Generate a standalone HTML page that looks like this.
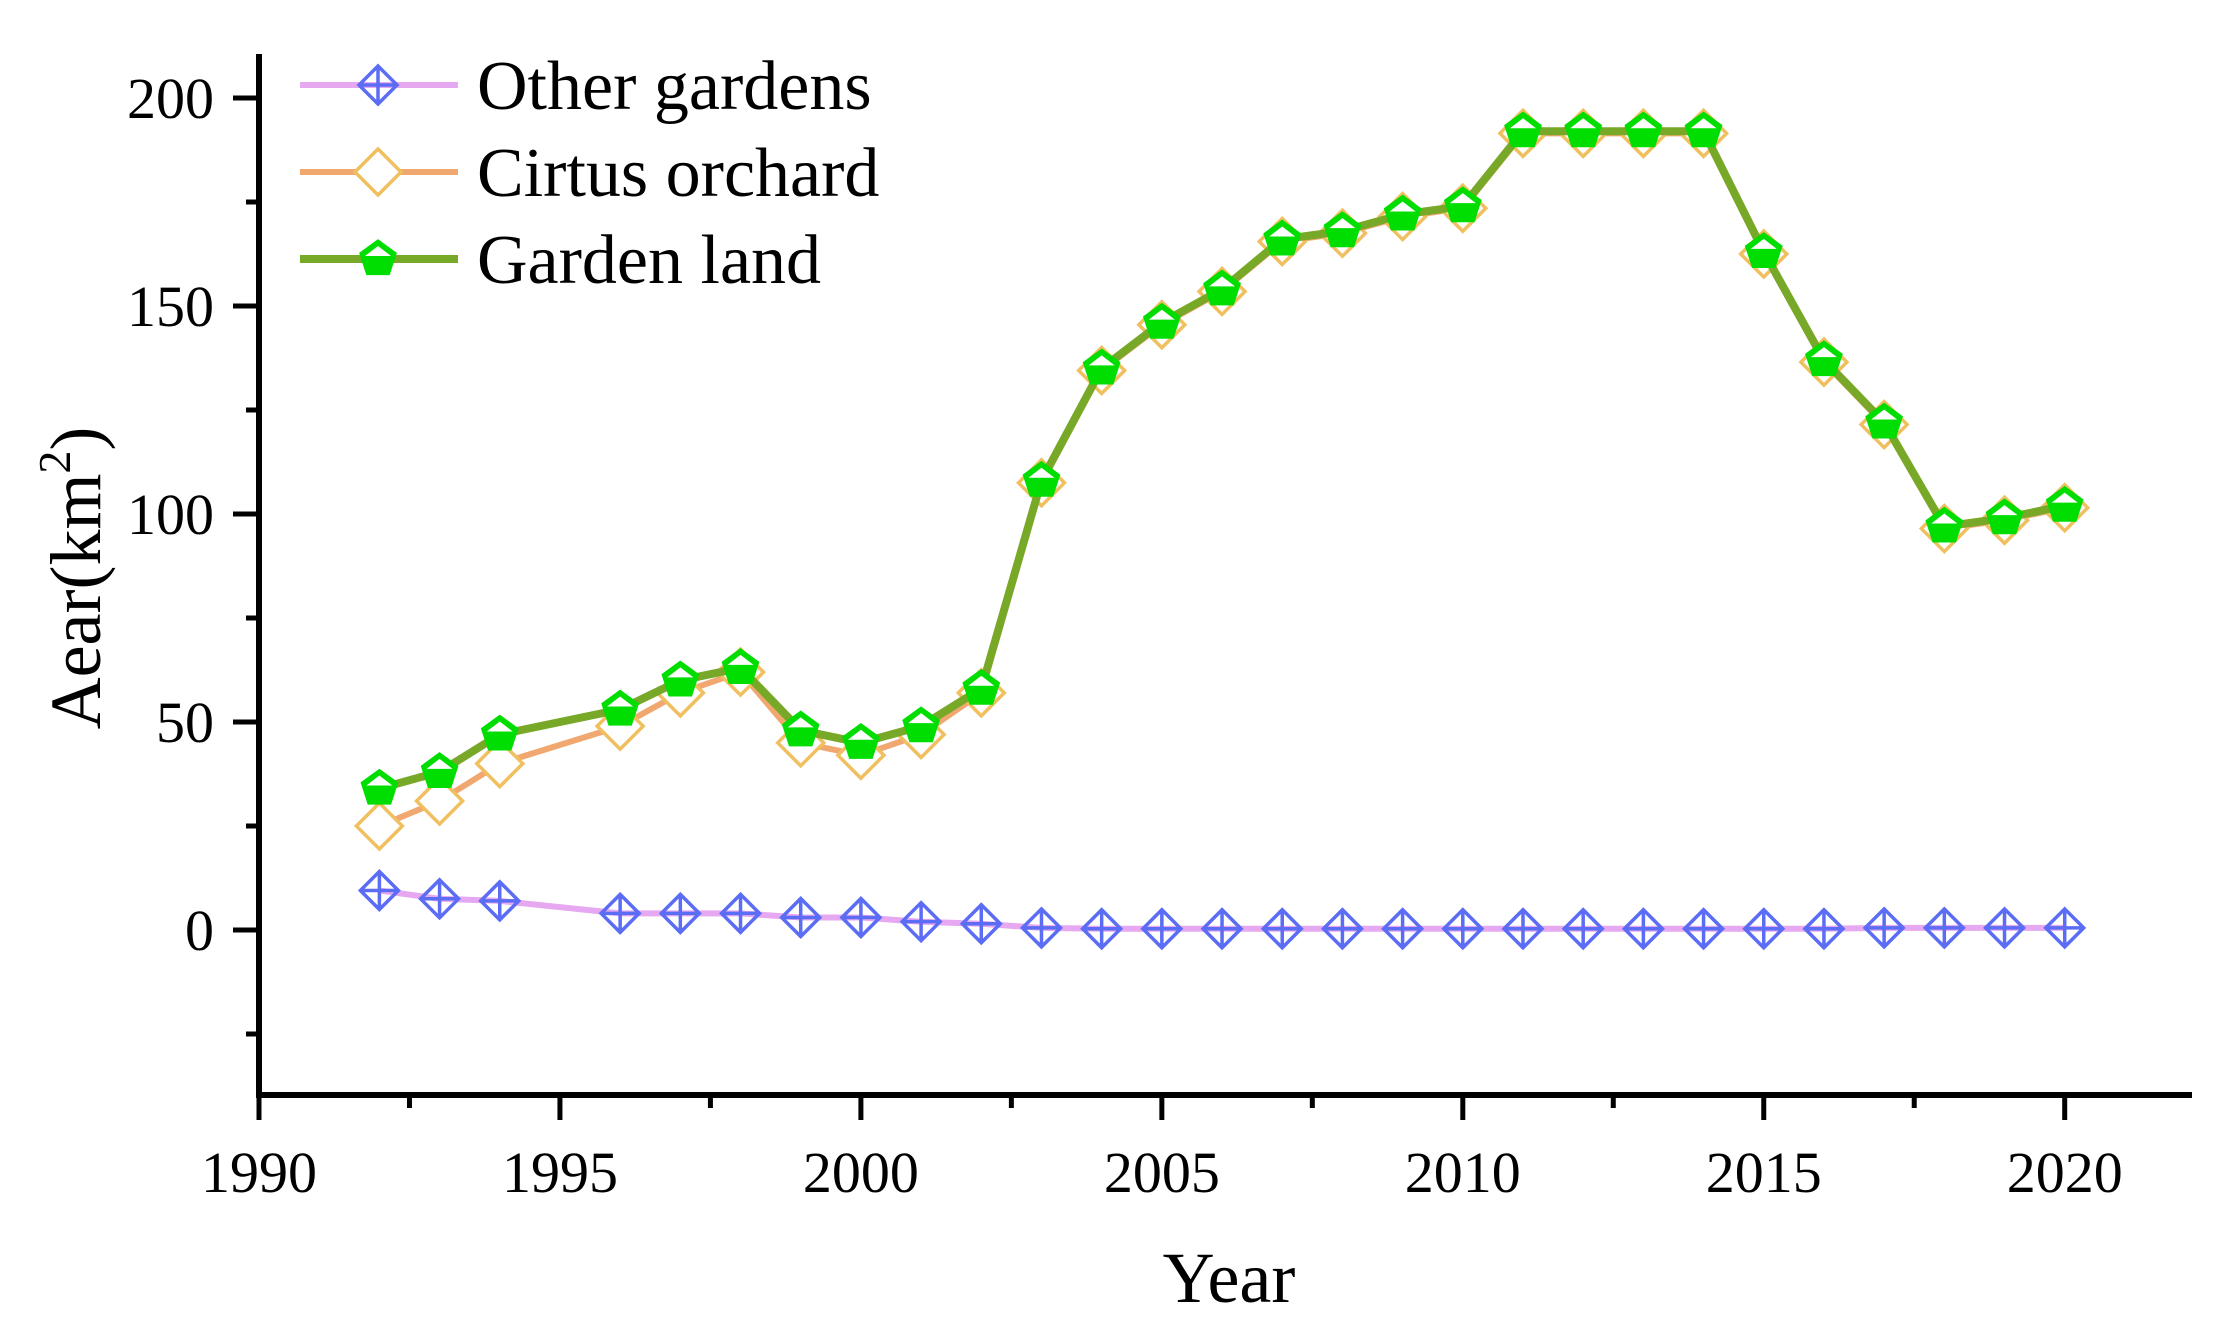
<!DOCTYPE html>
<html><head><meta charset="utf-8"><style>
html,body{margin:0;padding:0;background:#fff;}
svg text{font-family:"Liberation Serif",serif;fill:#000;}
</style></head><body>
<svg id="chart" width="2217" height="1332" viewBox="0 0 2217 1332" xmlns="http://www.w3.org/2000/svg">
<g id="axes"></g>
<g id="series"></g>
<g id="legend"></g>
<text transform="translate(100,578) rotate(-90)" text-anchor="middle" font-size="72">Aear(km<tspan font-size="46" dy="-30">2</tspan><tspan dy="30">)</tspan></text>
<text x="1229" y="1302" text-anchor="middle" font-size="72">Year</text>
</svg>
<script>
const years=[1992,1993,1994,1996,1997,1998,1999,2000,2001,2002,2003,2004,2005,2006,2007,2008,2009,2010,2011,2012,2013,2014,2015,2016,2017,2018,2019,2020];
const otherGardens=[9.5,7.5,7,4,4,4,3,3,2,1.5,0.5,0.3,0.3,0.3,0.3,0.3,0.3,0.3,0.3,0.3,0.3,0.3,0.3,0.3,0.5,0.5,0.5,0.5];
const citrusOrchard=[25,31,40,49,57,62,45,42,47,57,107.5,134.5,145.5,153.5,165.5,167.5,171.5,173.5,191.5,191.5,191.5,191.5,162.5,136.5,121.5,96.5,98.5,101.5];
const gardenLand=[34,38,47,53,60,63,48,45,49,58,108,135,146,154,166,168,172,174,192,192,192,192,163,137,122,97,99,102];
const xTicks=[1990,1995,2000,2005,2010,2015,2020];
const yTicks=[0,50,100,150,200];
const NS='http://www.w3.org/2000/svg';
const X0=259,X1=2192,Y0=1095,Ytop=54;
const x=v=>259+(v-1990)*60.19;
const y=v=>930-v*4.16;
function mk(tag,attrs,parent){const e=document.createElementNS(NS,tag);for(const k in attrs)e.setAttribute(k,attrs[k]);parent.appendChild(e);return e;}
const axes=document.getElementById('axes');
let e=mk('line',{x1:X0,y1:Y0,x2:X1,y2:Y0,stroke:'#000','stroke-width':6},axes);


e=mk('line',{x1:X0,y1:Ytop,x2:X0,y2:Y0+3,stroke:'#000','stroke-width':6},axes);


for(let t=1990;t<=2022;t+=2.5){const major=(t%5===0);e=mk('line',{x1:x(t),y1:Y0,x2:x(t),y2:Y0+(major?25:13),stroke:'#000','stroke-width':5},axes);

}
xTicks.forEach(t=>{e=mk('text',{x:x(t),y:1192,'text-anchor':'middle','font-size':58},axes);e.textContent=t;

});
for(let t=-25;t<=200;t+=25){const major=(t%50===0);e=mk('line',{x1:X0-(major?26:13),y1:y(t),x2:X0,y2:y(t),stroke:'#000','stroke-width':5},axes);

}
yTicks.forEach(t=>{e=mk('text',{x:214,y:y(t)+20,'text-anchor':'end','font-size':58},axes);e.textContent=t;

});
const ser=document.getElementById('series');
function diamondPlus(g,cx,cy){const r=19;mk('path',{d:`M${cx-r},${cy}L${cx},${cy-r}L${cx+r},${cy}L${cx},${cy+r}Z M${cx-r},${cy}H${cx+r} M${cx},${cy-r}V${cy+r}`,fill:'none',stroke:'#5b6cf5','stroke-width':3.5},g);}
function diamond(g,cx,cy){const r=23;mk('path',{d:`M${cx-r},${cy}L${cx},${cy-r}L${cx+r},${cy}L${cx},${cy+r}Z`,fill:'#fff',stroke:'#f0c060','stroke-width':3.5},g);}
function pent(g,cx,cy){const r=18;let p=[];for(let i=0;i<5;i++){const a=-Math.PI/2+i*2*Math.PI/5;p.push((cx+r*Math.cos(a)).toFixed(1)+','+(cy+r*Math.sin(a)).toFixed(1));}
mk('polygon',{points:p.join(' '),fill:'#00dd00',stroke:'#00dd00','stroke-width':3},g);
mk('polygon',{points:`${cx},${cy-13} ${cx-13},${cy-3} ${cx+13},${cy-3}`,fill:'#fff'},g);}
function drawSeries(name,vals,color,w,marker){const g=mk('g',{},ser);
const pts=years.map((yr,i)=>x(yr).toFixed(1)+','+y(vals[i]).toFixed(1)).join(' ');
e=mk('polyline',{points:pts,fill:'none',stroke:color,'stroke-width':w,'stroke-linejoin':'round'},g);


years.forEach((yr,i)=>marker(g,x(yr),y(vals[i])));}
drawSeries('other-gardens-series',otherGardens,'#e6a8f0',6,diamondPlus);
drawSeries('citrus-orchard-series',citrusOrchard,'#f0a870',6,diamond);
drawSeries('garden-land-series',gardenLand,'#78a828',8,pent);
const leg=document.getElementById('legend');
const items=[['Other gardens','#e6a8f0',6,diamondPlus],['Cirtus orchard','#f0a870',6,diamond],['Garden land','#78a828',8,pent]];
items.forEach((it,i)=>{const cy=85+i*87;const g=mk('g',{},leg);
mk('line',{x1:300,y1:cy,x2:458,y2:cy,stroke:it[1],'stroke-width':it[2]},g);it[3](g,378,cy);
const t=mk('text',{x:477,y:cy+24,'font-size':70},g);t.textContent=it[0];});
</script>
</body></html>
